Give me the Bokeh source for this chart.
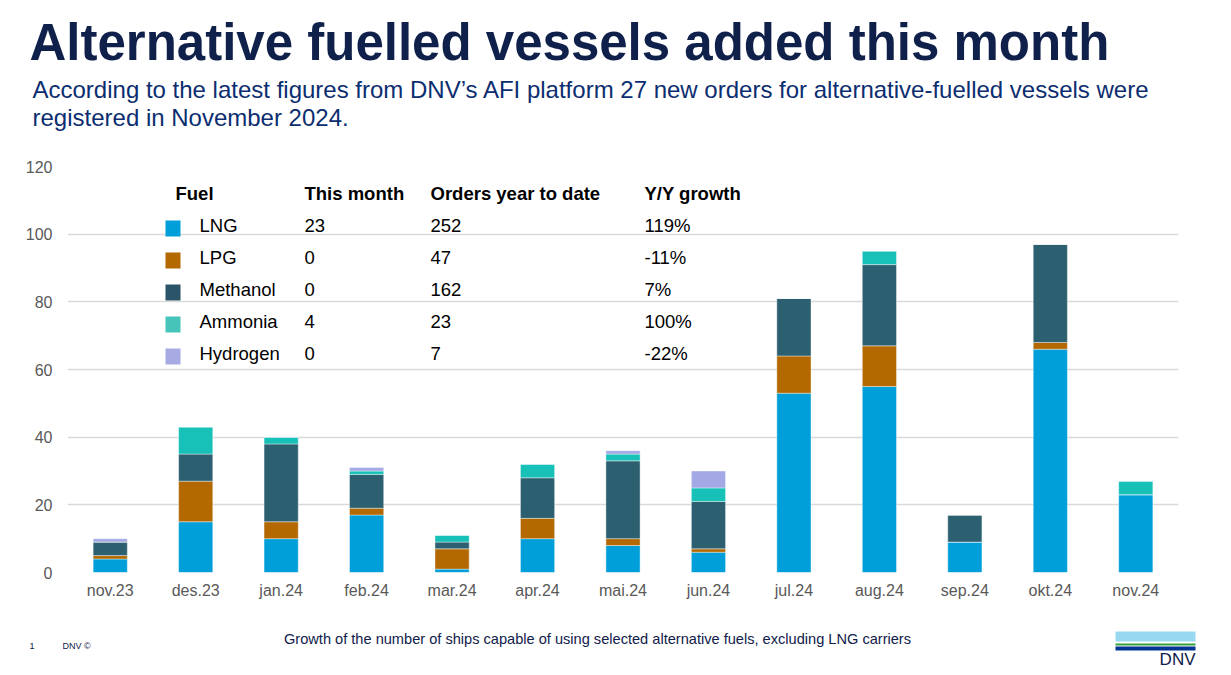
from bokeh.plotting import figure
from bokeh.models import Label, BoxAnnotation, Range1d, ColumnDataSource
from bokeh.layouts import column
from bokeh.embed import file_html
from bokeh.resources import INLINE

months = ["nov.23", "des.23", "jan.24", "feb.24", "mar.24", "apr.24", "mai.24",
          "jun.24", "jul.24", "aug.24", "sep.24", "okt.24", "nov.24"]
lng = [4, 15, 10, 17, 1, 10, 8, 6, 53, 55, 9, 66, 23]
lpg = [1, 12, 5, 2, 6, 6, 2, 1, 11, 12, 0, 2, 0]
methanol = [4, 8, 23, 10, 2, 12, 23, 14, 17, 24, 8, 29, 0]
ammonia = [0, 8, 2, 1, 2, 4, 2, 4, 0, 4, 0, 0, 4]
hydrogen = [1, 0, 0, 1, 0, 0, 1, 5, 0, 0, 0, 0, 0]

fuels = ["LNG", "LPG", "Methanol", "Ammonia", "Hydrogen"]
this_month = ["23", "0", "0", "4", "0"]
orders_ytd = ["252", "47", "162", "23", "7"]
yy_growth = ["119%", "-11%", "7%", "100%", "-22%"]
headers = ["Fuel", "This month", "Orders year to date", "Y/Y growth"]

colors = ["#009FDA", "#B36800", "#2C6070", "#17C1B8", "#A3A9E5"]
legend_colors = ["#009FDA", "#B36800", "#2C5468", "#47C4BA", "#A8ABE3"]
NAVY = "#0F204B"
SUB = "#0C2E70"
FONT = "Liberation Sans"

W = 1220
H_HEAD, H_CHART, H_FOOT = 150, 470, 52
FL, FR, FT, FB = 67, 1178, 166, 572  # chart frame in page coords


def blank(height, y0):
    f = figure(width=W, height=height, x_range=Range1d(0, W),
               y_range=Range1d(y0 + height, y0), output_backend="svg",
               toolbar_location=None, x_axis_type=None, y_axis_type=None,
               min_border=0, min_border_left=0, min_border_right=0,
               min_border_top=0, min_border_bottom=0, frame_align=False)
    f.grid.grid_line_color = None
    f.outline_line_color = None
    f.border_fill_color = "white"
    f.background_fill_color = "white"
    return f


def dtext(f, x, y, s, size, color="black", bold=False, align="left", baseline="middle"):
    f.add_layout(Label(x=x, y=y, text=s, text_font=FONT, text_font_size=f"{size}px",
                       text_color=color, text_font_style="bold" if bold else "normal",
                       text_align=align, text_baseline=baseline))


# ---------- header ----------
head = blank(H_HEAD, 0)
dtext(head, 29, 42, "Alternative fuelled vessels added this month", 51, NAVY, bold=True)
dtext(head, 32, 88.5, "According to the latest figures from DNV\u2019s AFI platform 27 new orders for alternative-fuelled vessels were", 24, SUB)
dtext(head, 32, 117, "registered in November 2024.", 24, SUB)

# ---------- chart ----------
p = figure(width=W, height=H_CHART, x_range=months, y_range=Range1d(0, 120),
           output_backend="svg", toolbar_location=None, frame_align=False,
           min_border_left=FL, min_border_right=W - FR,
           min_border_top=FT - H_HEAD, min_border_bottom=H_HEAD + H_CHART - FB)
p.outline_line_color = None
p.background_fill_color = "white"
p.border_fill_color = "white"

src = ColumnDataSource(dict(months=months, LNG=lng, LPG=lpg, Methanol=methanol,
                            Ammonia=ammonia, Hydrogen=hydrogen))
p.vbar_stack(fuels, x="months", width=0.4, source=src, color=colors,
             line_color="white", line_alpha=0.5, line_width=0.8)

p.xgrid.grid_line_color = None
p.ygrid.grid_line_color = "#D9D9D9"
p.ygrid.grid_line_width = 1.3
p.yaxis.ticker = [0, 20, 40, 60, 80, 100, 120]
for ax in (p.xaxis, p.yaxis):
    ax.axis_line_color = None
    ax.major_tick_line_color = None
    ax.minor_tick_line_color = None
    ax.major_tick_out = 0
    ax.major_tick_in = 0
    ax.major_label_text_font = FONT
    ax.major_label_text_font_size = "16px"
    ax.major_label_text_color = "#595959"
p.yaxis.major_label_standoff = 15
p.xaxis.major_label_standoff = 9


def text(x, y, s, size, color="black", bold=False, align="left", baseline="middle"):
    p.add_layout(Label(x=x - FL, y=FB - y, x_units="screen", y_units="screen", text=s,
                       text_font=FONT, text_font_size=f"{size}px", text_color=color,
                       text_font_style="bold" if bold else "normal",
                       text_align=align, text_baseline=baseline))


col_x = [175, 304, 430, 644]
for cx, h in zip(col_x, headers):
    text(cx, 193, h, 18.5, "black", bold=True)
for i, f in enumerate(fuels):
    y = 225 + 32 * i
    p.add_layout(BoxAnnotation(left=165 - FL, right=180 - FL, top=FB - (y - 5), bottom=FB - (y + 11),
                               left_units="screen", right_units="screen",
                               top_units="screen", bottom_units="screen",
                               fill_color=legend_colors[i], fill_alpha=1, line_color=None))
    text(199, y, f, 18.5)
    text(col_x[1], y, this_month[i], 18.5)
    text(col_x[2], y, orders_ytd[i], 18.5)
    text(col_x[3], y, yy_growth[i], 18.5)

# ---------- footer ----------
y0 = H_HEAD + H_CHART
foot = blank(H_FOOT, y0)
dtext(foot, 29, 645, "1", 9, NAVY)
dtext(foot, 62, 645, "DNV \u00a9", 9, NAVY)
dtext(foot, 597, 638, "Growth of the number of ships capable of using selected alternative fuels, excluding LNG carriers",
      14.6, NAVY, align="center")
foot.quad(left=[1115, 1115, 1115], right=[1195, 1195, 1195], top=[631, 643, 646], bottom=[641, 645, 650],
          color=["#99D9F0", "#36A13B", "#003591"], line_color=None)
dtext(foot, 1195, 659, "DNV", 17, NAVY, align="right")

layout = column(head, p, foot, spacing=0)
open("out.html", "w").write(file_html(layout, INLINE))
